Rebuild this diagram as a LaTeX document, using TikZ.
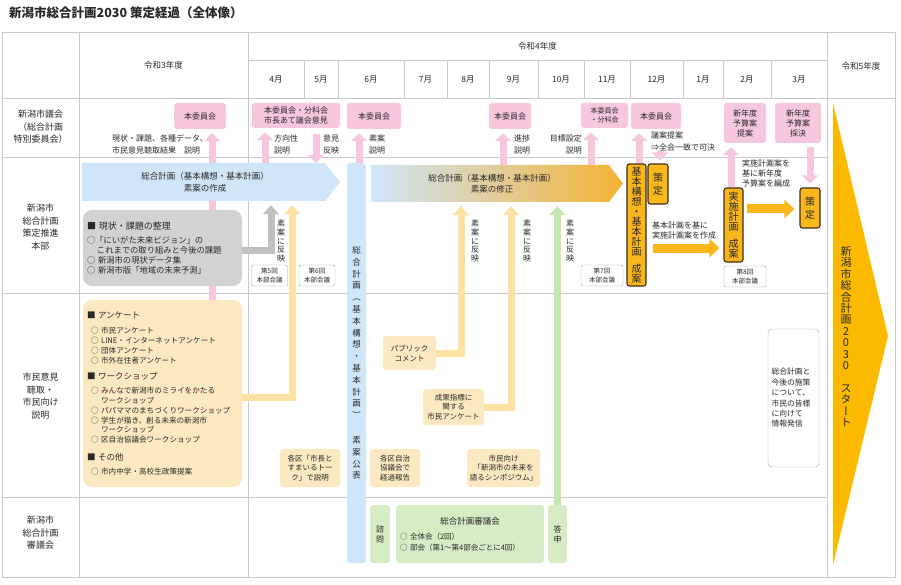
\documentclass[tikz,border=0pt]{standalone}
\usepackage{fontspec}
\setmainfont{Noto Sans CJK JP}
\newfontfamily\tate[RawFeature=+vert]{Noto Sans CJK JP}
\usetikzlibrary{arrows.meta}
\definecolor{waku}{RGB}{200,200,200}
\definecolor{moji}{RGB}{40,40,40}
\definecolor{gikai}{RGB}{247,199,221}
\definecolor{sorairo}{RGB}{207,230,249}
\definecolor{haiiro}{RGB}{210,210,210}
\definecolor{nezumi}{RGB}{192,192,192}
\definecolor{usuki}{RGB}{252,233,193}
\definecolor{kiiro}{RGB}{252,225,162}
\definecolor{usumidori}{RGB}{214,236,197}
\definecolor{midori}{RGB}{200,230,178}
\definecolor{daidai}{RGB}{250,183,28}
\definecolor{orangeg}{RGB}{245,178,54}
\definecolor{beige}{RGB}{232,210,188}
\definecolor{yamabuki}{RGB}{251,186,0}
\definecolor{kogecha}{RGB}{60,45,30}
\newcommand{\fs}[2]{\fontsize{#1pt}{#2pt}\selectfont}

\begin{document}
\begin{tikzpicture}[x=1pt,y=-1pt,
  every node/.style={text=moji},
  keisen/.style={draw=waku,line width=0.8pt},
  hdr/.style={inner sep=0pt,font=\fs{8.5}{10}},
  rowlbl/.style={align=center,inner sep=0pt,font=\fs{9}{12.5}},
  pinkbox/.style={fill=gikai,rounded corners=3pt,align=center,inner sep=0pt,font=\fs{8}{10}},
  setsumei/.style={align=left,inner sep=0pt,font=\fs{8}{12}},
  honbu/.style={draw=waku!80!black,fill=white,rounded corners=2pt,align=center,inner sep=0pt,
    font=\fs{6.5}{8.5},minimum width=36pt,minimum height=21pt},
  hanei/.style={align=center,inner sep=0pt,font=\tate\fs{8}{8.6}},
  orbox/.style={draw=kogecha,line width=1.1pt,fill=daidai,rounded corners=2.5pt,inner sep=0pt,
    align=center,font=\tate\fs{10}{10},minimum width=19pt},
  yelbox/.style={fill=usuki,rounded corners=3pt,align=center,inner sep=0pt,font=\fs{7.5}{9.8}},
  kaigi/.style={fill=usumidori,rounded corners=3pt,inner sep=0pt,align=center,minimum height=58pt},
  pinkarr/.style={draw=gikai,line width=7pt,-{Triangle[width=16pt,length=8pt]},shorten >=4pt},
  grayarr/.style={draw=nezumi,line width=7pt,-{Triangle[width=16pt,length=9pt]},shorten >=4pt},
  yelarr/.style={draw=kiiro,line width=7pt,-{Triangle[width=16pt,length=9pt]},shorten >=4pt},
  grnarr/.style={draw=midori,line width=7pt,-{Triangle[width=16pt,length=9pt]},shorten >=4pt},
  orarr/.style={draw=daidai,line width=9pt,-{Triangle[width=18pt,length=10pt]}}]
\useasboundingbox (0,0) rectangle (901,585);
% title
\node[anchor=west,inner sep=0pt,font=\fs{12.5}{14}\bfseries] (title) at (9,13) {新潟市総合計画2030 策定経過（全体像）};
% table lines
\draw[keisen] (2,32) rectangle (895,577);
\draw[keisen] (79,32) -- (79,577);
\draw[keisen] (248,32) -- (248,577);
\draw[keisen] (827,32) -- (827,577);
\draw[keisen] (248,60) -- (827,60);
\draw[keisen] (2,98) -- (895,98);
\foreach \y in {157,293,497} \draw[keisen] (2,\y) -- (827,\y);
\foreach \x in {304,338,404,447,489,538,584,630,683,723,771} \draw[keisen] (\x,60) -- (\x,98);
% header
\node[hdr] (r3) at (163.5,65) {令和3年度};
\node[hdr] (r4) at (537.5,46) {令和4年度};
\node[hdr] (r5) at (861,66) {令和5年度};
\foreach \x/\m in {276/4,321/5,371/6,425.5/7,468/8,513.5/9,561/10,607/11,656.5/12,703/1,747/2,799/3}
  \node[hdr] (m\m) at (\x,80) {\m 月};
% row labels
\node[rowlbl] (rGikai) at (40.5,127) {新潟市議会\\（総合計画\\特別委員会）};
\node[rowlbl] (rHonbu) at (40.5,227) {新潟市\\総合計画\\策定推進\\本部};
\node[rowlbl] (rShimin) at (40.5,396) {市民意見\\聴取・\\市民向け\\説明};
\node[rowlbl] (rShingi) at (40.5,533) {新潟市\\総合計画\\審議会};
% council boxes
\node[pinkbox,minimum width=52pt,minimum height=26pt] (iinA) at (200,116) {本委員会};
\node[pinkbox,minimum width=88pt,minimum height=25pt] (iinB) at (296,115.5) {本委員会・分科会\\市長あて議会意見};
\node[pinkbox,minimum width=54pt,minimum height=26pt] (iinC) at (374,116) {本委員会};
\node[pinkbox,minimum width=42pt,minimum height=26pt] (iinD) at (510,116) {本委員会};
\node[pinkbox,minimum width=47pt,minimum height=25pt,font=\fs{7}{9}] (iinE) at (604.5,115.5) {本委員会\\・分科会};
\node[pinkbox,minimum width=50pt,minimum height=26pt] (iinF) at (656,116) {本委員会};
\node[pinkbox,minimum width=42pt,minimum height=40pt] (yosanA) at (745,123) {新年度\\予算案\\提案};
\node[pinkbox,minimum width=46pt,minimum height=40pt] (yosanB) at (798,123) {新年度\\予算案\\採決};
\node[setsumei,anchor=west] (dA) at (112,144) {現状・課題、各種データ、\\市民意見聴取結果　説明};
\node[setsumei,anchor=west] (dB) at (274,144) {方向性\\説明};
\node[setsumei,anchor=west] (dC) at (323,144) {意見\\反映};
\node[setsumei,anchor=west] (dD) at (369,144) {素案\\説明};
\node[setsumei,anchor=west] (dE) at (514,144) {進捗\\説明};
\node[setsumei,anchor=east,align=right] (dF) at (582,144) {目標設定\\説明};
\node[setsumei,anchor=west] (dG) at (651,141) {議案提案\\⇒全会一致で可決};
% citizens box
\node[fill=usuki,rounded corners=9pt,minimum width=159pt,minimum height=187pt,text width=151pt,
  inner xsep=4pt,inner ysep=0pt,align=left,font=\fs{7.6}{9.8}] (ankA) at (162.5,393.5)
  {{\fs{8.5}{9.8}■ アンケート}\\[5pt]
   \hspace*{4pt}○ 市民アンケート\\
   \hspace*{4pt}○ LINE・インターネットアンケート\\
   \hspace*{4pt}○ 団体アンケート\\
   \hspace*{4pt}○ 市外在住者アンケート\\[7pt]
   {\fs{8.5}{9.8}■ ワークショップ}\\[4pt]
   \hspace*{4pt}○ みんなで新潟市のミライをかたる\\
   \hspace*{14pt}ワークショップ\\
   \hspace*{4pt}○ パパママのまちづくりワークショップ\\
   \hspace*{4pt}○ 学生が描き、創る未来の新潟市\\
   \hspace*{14pt}ワークショップ\\
   \hspace*{4pt}○ 区自治協議会ワークショップ\\[8pt]
   {\fs{8.5}{9.8}■ その他}\\[4pt]
   \hspace*{4pt}○ 市内中学・高校生政策提案};
% pink arrow behind the boxes
\draw[pinkarr] (ankA.north -| 212,0) -- (iinA.south -| 212,0);
% draft arrow
\fill[sorairo] (82,163) -- (325,163) -- (340,182) -- (325,201) -- (82,201) -- cycle;
\node[minimum width=240pt,minimum height=38pt,inner sep=0pt,align=center,font=\fs{8.5}{11.5}] (sakusei) at (205,182) {総合計画（基本構想・基本計画）\\素案の作成};
\node[fill=haiiro,rounded corners=9pt,minimum width=159pt,minimum height=76pt,text width=151pt,
  inner xsep=4pt,inner ysep=0pt,align=left,font=\fs{8.3}{10}] (genjo) at (162.5,248)
  {{\fs{9}{10}■ 現状・課題の整理}\\[4pt]
   ○「にいがた未来ビジョン」の\\
   \hspace*{1.2em}これまでの取り組みと今後の課題\\
   ○ 新潟市の現状データ集\\
   ○ 新潟市版「地域の未来予測」};
% revision arrow
\shade[left color=sorairo,middle color=beige,right color=orangeg] (371,165) -- (609,165) -- (623,183.5) -- (609,202) -- (371,202) -- cycle;
\node[minimum width=230pt,minimum height=37pt,inner sep=0pt,align=center,font=\fs{8.5}{11.5}] (shusei) at (492,183.5) {総合計画（基本構想・基本計画）\\素案の修正};
% publication band
\node[fill=sorairo,rounded corners=3pt,minimum width=19pt,minimum height=400pt,inner sep=0pt,
  align=center,font=\tate\fs{8.5}{11.8}] (kohyo) at (356.5,363)
  {総\\合\\計\\画\\（\\基\\本\\構\\想\\・\\基\\本\\計\\画\\）\\[13pt]素\\案\\公\\表};
% headquarters meetings
\node[honbu] (h5) at (269.5,275.5) {第5回\\本部会議};
\node[honbu] (h6) at (317,275.5) {第6回\\本部会議};
\node[honbu,minimum width=42pt] (h7) at (602,275.5) {第7回\\本部会議};
\node[honbu,minimum width=42pt] (h8) at (745,276.5) {第8回\\本部会議};
\node[hanei] (hA) at (281,241) {素\\案\\に\\反\\映};
\node[hanei] (hB) at (475,241) {素\\案\\に\\反\\映};
\node[hanei] (hC) at (527,241) {素\\案\\に\\反\\映};
\node[hanei] (hD) at (570,241) {素\\案\\に\\反\\映};
% plan boxes
\node[orbox,minimum height=122pt] (seian) at (636.5,225) {基\\本\\構\\想\\・\\基\\本\\計\\画\\[7pt]成\\案};
\node[orbox,minimum width=20pt,minimum height=40pt,font=\tate\fs{10}{13}] (sakuteiA) at (658,184) {策\\定};
\node[orbox,minimum height=74pt] (jisshi) at (733.5,225) {実\\施\\計\\画\\[7pt]成\\案};
\node[orbox,minimum width=20pt,minimum height=40pt,font=\tate\fs{10}{13}] (sakuteiB) at (810,208) {策\\定};
\node[setsumei,anchor=west,font=\fs{8}{10}] (dH) at (652,230) {基本計画を基に\\実施計画案を作成};
\node[setsumei,anchor=west,font=\fs{8}{10}] (dI) at (742,173) {実施計画案を\\基に新年度\\予算案を編成};
% citizens events
\node[yelbox,minimum width=53pt,minimum height=34pt] (pubcom) at (409.5,353) {パブリック\\コメント};
\node[yelbox,minimum width=61pt,minimum height=36pt] (seika) at (453.5,407) {成果指標に\\関する\\市民アンケート};
\node[yelbox,minimum width=60pt,minimum height=38pt] (sumairu) at (310,468) {各区「市長と\\すまいるトー\\ク」で説明};
\node[yelbox,minimum width=50pt,minimum height=38pt] (jichi) at (395,468) {各区自治\\協議会で\\経過報告};
\node[yelbox,minimum width=73pt,minimum height=38pt] (sympo) at (503.5,468) {市民向け\\「新潟市の未来を\\語るシンポジウム」};
\node[draw=gray!70,fill=white,rounded corners=4pt,minimum width=51pt,minimum height=138pt,
  text width=44pt,inner xsep=3.5pt,align=left,font=\fs{7.8}{10.4}] (hasshin) at (793.5,398)
  {総合計画と\\今後の施策\\について、\\市民の皆様\\に向けて\\情報発信};
% council of deliberation
\node[kaigi,minimum width=20pt,font=\tate\fs{8}{10}] (shimon) at (380,534) {諮\\問};
\node[kaigi,minimum width=148pt,text width=140pt,align=left,font=\fs{7.5}{10.5}] (shingikai) at (470,534)
  {\makebox[140pt]{\fs{8.5}{10.5}総合計画審議会}\\[5pt]○ 全体会（2回）\\○ 部会（第1～第4部会ごとに4回）};
\node[kaigi,minimum width=19pt,font=\tate\fs{8}{10}] (toshin) at (557.5,534) {答\\申};
% arrows
\draw[pinkarr] (sakusei.north -| 265,0) -- (iinB.south -| 265,0);
\draw[pinkarr,shorten <=6pt,shorten >=0pt] (iinB.south -| 316,0) -- (sakusei.north -| 316,0);
\draw[pinkarr] (kohyo.north -| 359,0) -- (iinC.south -| 359,0);
\draw[pinkarr] (shusei.north -| 503,0) -- (iinD.south -| 503,0);
\draw[pinkarr] (shusei.north -| 591,0) -- (iinE.south -| 591,0);
\draw[pinkarr] (seian.north -| 639,0) -- (iinF.south -| 639,0);
\draw[pinkarr,shorten >=3pt] (dG.south -| 660,0) -- (sakuteiA.north -| 660,0);
\draw[pinkarr] (jisshi.north -| 731,0) -- (yosanA.south -| 731,0);
\draw[pinkarr,shorten <=4pt] (yosanB.south -| 810,0) -- (sakuteiB.north -| 810,0);
\draw[grayarr] (genjo.east |- 0,250) -| (sakusei.south -| 271,0);
\draw[yelarr] (ankA.east |- 0,397) -| (sakusei.south -| 292,0);
\draw[yelarr] (pubcom.east) -| (shusei.south -| 461,0);
\draw[yelarr] (seika.east) -| (shusei.south -| 511,0);
\draw[grnarr] (toshin.north) -- (toshin.north |- shusei.south);
\draw[orarr,shorten <=6pt,shorten >=4pt] (seian.east |- 0,248) -- (jisshi.west |- 0,248);
\draw[orarr,shorten <=3pt,shorten >=5pt] (jisshi.east |- 0,209) -- (sakuteiB.west |- 0,209);
% start
\fill[yamabuki] (833,103) -- (888,336) -- (833,565) -- cycle;
\node[inner sep=0pt,align=center,font=\tate\fs{11}{11.4}] (start) at (846,336.5)
  {新\\潟\\市\\総\\合\\計\\画\\2\\0\\3\\0\\[11.4pt]ス\\タ\\ー\\ト};
\end{tikzpicture}
\end{document}
